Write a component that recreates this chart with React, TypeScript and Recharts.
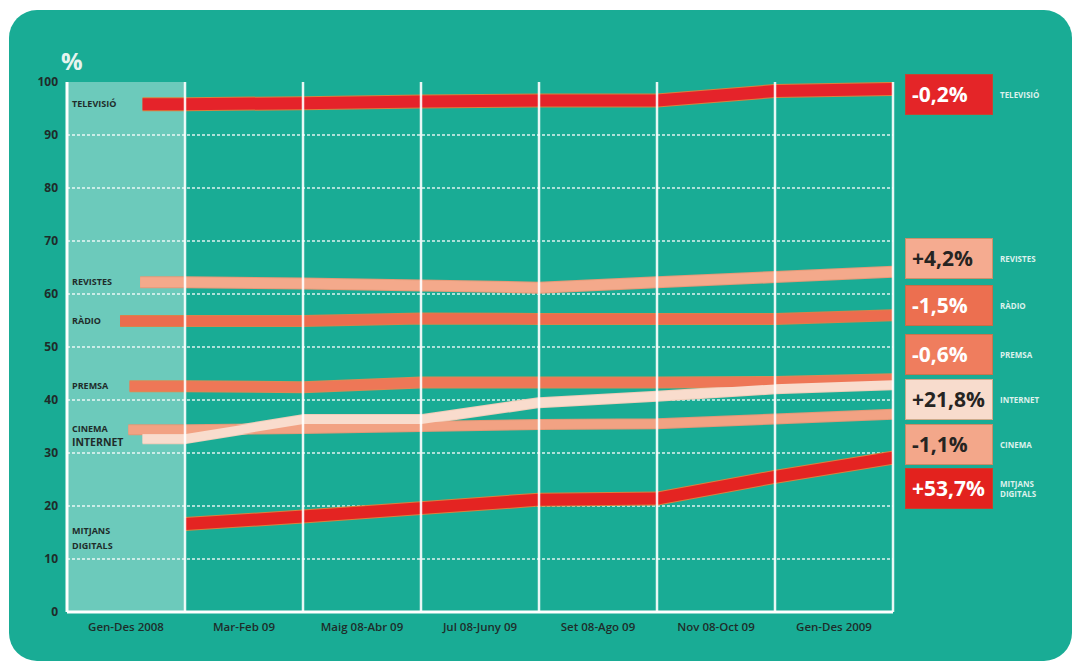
import React from 'react';
import {
  LineChart,
  Line,
  XAxis,
  YAxis,
  CartesianGrid,
  ReferenceArea,
  ReferenceLine,
  LabelList,
} from 'recharts';

// Periods shown along the x axis (one band each)
const periods = [
  'Gen-Des 2008',
  'Mar-Feb 09',
  'Maig 08-Abr 09',
  'Jul 08-Juny 09',
  'Set 08-Ago 09',
  'Nov 08-Oct 09',
  'Gen-Des 2009',
];

const yTicks = [0, 10, 20, 30, 40, 50, 60, 70, 80, 90, 100];
const gridValues = [10, 20, 30, 40, 50, 60, 70, 80, 90];

// Audience share (%) per medium, one value per period
const televisio = [95.8, 96.0, 96.3, 96.5, 96.5, 98.3, 98.7];
const revistes = [62.2, 62.0, 61.6, 61.2, 62.2, 63.2, 64.2];
const radio = [54.9, 54.9, 55.4, 55.3, 55.3, 55.3, 56.0];
const premsa = [42.6, 42.4, 43.3, 43.3, 43.3, 43.4, 43.9];
const cinema = [34.4, 34.6, 35.0, 35.4, 35.5, 36.4, 37.3];
const internet = [32.7, 36.3, 36.3, 39.5, 40.7, 42.1, 42.9];
const mitjans = [16.6, 18.0, 19.6, 21.2, 21.4, 25.5, 29.1];

// Year-on-year change labels
const changes = ['-0,2%', '+4,2%', '-1,5%', '-0,6%', '+21,8%', '-1,1%', '+53,7%'];

const FONT = '"Open Sans", "DejaVu Sans", sans-serif';
const DARK = '#1f2c2a';

const W = 1075;
const H = 666;
const MARGIN = { top: 82, right: 182, bottom: 24, left: 17 };
const Y_AXIS_W = 50;
const X_AXIS_H = 30;
const PLOT_LEFT = MARGIN.left + Y_AXIS_W;

type Series = {
  key: string;
  name: string[];
  values: number[];
  color: string;
  edge: string;
  width: number;
  start: number; // where the line begins inside the first band (x units)
  nameSize: number;
  nameDy: number;
};

const series: Series[] = [
  { key: 'tv', name: ['TELEVISIÓ'], values: televisio, color: '#e5232a', edge: '#d9823f', width: 12, start: 0.64, nameSize: 9, nameDy: 0 },
  { key: 'rev', name: ['REVISTES'], values: revistes, color: '#f4a98b', edge: '#e59a78', width: 10, start: 0.62, nameSize: 9, nameDy: 0 },
  { key: 'rad', name: ['RÀDIO'], values: radio, color: '#ec6c4e', edge: '#d9824a', width: 10, start: 0.45, nameSize: 9, nameDy: 0 },
  { key: 'pre', name: ['PREMSA'], values: premsa, color: '#ee7757', edge: '#db8a55', width: 10, start: 0.53, nameSize: 9, nameDy: 0 },
  { key: 'cin', name: ['CINEMA'], values: cinema, color: '#f2a283', edge: '#e19877', width: 9, start: 0.52, nameSize: 9, nameDy: -1 },
  { key: 'int', name: ['INTERNET'], values: internet, color: '#f9dccd', edge: '#efcdb9', width: 9, start: 0.64, nameSize: 10.5, nameDy: 3.5 },
  { key: 'mit', name: ['MITJANS', 'DIGITALS'], values: mitjans, color: '#e42422', edge: '#d9823f', width: 12, start: 1, nameSize: 9, nameDy: 7 },
];

// Summary boxes on the right: order, colours and layout
const boxes = [
  { change: changes[0], label: ['TELEVISIÓ'], fill: '#e42528', text: '#ffffff', top: 74 },
  { change: changes[1], label: ['REVISTES'], fill: '#f5ab90', text: '#262422', top: 238 },
  { change: changes[2], label: ['RÀDIO'], fill: '#ec6f50', text: '#ffffff', top: 285 },
  { change: changes[3], label: ['PREMSA'], fill: '#ef7d5e', text: '#ffffff', top: 334 },
  { change: changes[4], label: ['INTERNET'], fill: '#f8dccd', text: '#262422', top: 379 },
  { change: changes[5], label: ['CINEMA'], fill: '#f3a78a', text: '#262422', top: 424 },
  { change: changes[6], label: ['MITJANS', 'DIGITALS'], fill: '#e3221e', text: '#ffffff', top: 468 },
];

const toPoints = (s: Series) => {
  const pts = [{ x: s.start, v: s.values[0] }];
  s.values.forEach((v, i) => pts.push({ x: i + 1, v }));
  if (s.start >= 1) pts.shift();
  return pts;
};

const nameRenderer = (s: Series) => (props: any) => {
  if (props.index !== 0) return null;
  const lines = s.name;
  const lh = 15;
  const y0 = props.y + s.nameDy;
  return (
    <text
      x={PLOT_LEFT + 5}
      y={y0}
      fill={DARK}
      fontFamily={FONT}
      fontWeight={700}
      fontSize={s.nameSize}
    >
      {lines.map((l, i) => (
        <tspan key={i} x={PLOT_LEFT + 5} dy={i === 0 ? '0.35em' : lh}>
          {l}
        </tspan>
      ))}
    </text>
  );
};

export default function App() {
  return (
    <div style={{ position: 'absolute', left: 0, top: 0, width: W, height: H, background: '#ffffff', overflow: 'hidden' }}>
      <div
        style={{
          position: 'absolute',
          left: 9,
          top: 10,
          width: 1063,
          height: 651,
          borderRadius: 28,
          background: '#19ac95',
        }}
      />
      <div style={{ position: 'absolute', left: 0, top: 0 }}>
        <LineChart width={W} height={H} margin={MARGIN}>
          <ReferenceArea
            x1={0}
            x2={1}
            y1={0}
            y2={100}
            fill="#ffffff"
            fillOpacity={0.36}
            stroke="none"
            ifOverflow="extendDomain"
          />
          <CartesianGrid
            vertical={false}
            horizontalValues={gridValues}
            stroke="#ffffff"
            strokeOpacity={0.85}
            strokeWidth={1.6}
            strokeDasharray="3 2"
          />
          <XAxis
            dataKey="x"
            type="number"
            domain={[0, 7]}
            ticks={[0.5, 1.5, 2.5, 3.5, 4.5, 5.5, 6.5]}
            interval={0}
            allowDataOverflow
            tickFormatter={(v: number) => periods[Math.round(v - 0.5)]}
            tickLine={false}
            tickSize={0}
            tickMargin={11}
            height={X_AXIS_H}
            axisLine={{ stroke: '#ffffff', strokeWidth: 3 }}
            tick={{ fill: DARK, fontFamily: FONT, fontSize: 11.5, fontWeight: 600 }}
          />
          <YAxis
            type="number"
            domain={[0, 100]}
            ticks={yTicks}
            interval={0}
            allowDataOverflow
            width={Y_AXIS_W}
            tickLine={false}
            tickSize={0}
            tickMargin={9}
            axisLine={{ stroke: '#ffffff', strokeWidth: 3 }}
            tick={{ fill: DARK, fontFamily: FONT, fontSize: 12, fontWeight: 700 }}
          />
          {series.map((s) => (
            <Line
              key={s.key + '-edge'}
              data={toPoints(s)}
              dataKey="v"
              type="linear"
              stroke={s.edge}
              strokeWidth={s.width + 2}
              strokeLinecap="butt"
              strokeLinejoin="round"
              dot={false}
              activeDot={false}
              legendType="none"
              isAnimationActive={false}
            />
          ))}
          {series.map((s) => (
            <Line
              key={s.key}
              data={toPoints(s)}
              dataKey="v"
              type="linear"
              stroke={s.color}
              strokeWidth={s.width}
              strokeLinecap="butt"
              strokeLinejoin="round"
              dot={false}
              activeDot={false}
              isAnimationActive={false}
            >
              <LabelList dataKey="v" content={nameRenderer(s)} />
            </Line>
          ))}
          {[1, 2, 3, 4, 5, 6, 7].map((x) => (
            <ReferenceLine key={x} x={x} stroke="#ffffff" strokeOpacity={0.9} strokeWidth={2.5} zIndex={600} />
          ))}
        </LineChart>
      </div>
      <div
        style={{
          position: 'absolute',
          left: 61,
          top: 47,
          fontFamily: FONT,
          fontWeight: 700,
          fontSize: 24,
          color: '#e6f4ef',
          lineHeight: '28px',
        }}
      >
        %
      </div>
      {boxes.map((b, i) => (
        <React.Fragment key={i}>
          <div
            style={{
              position: 'absolute',
              left: 905,
              top: b.top,
              width: 88,
              height: 41,
              boxSizing: 'border-box',
              background: b.fill,
              border: '1px solid rgba(150, 110, 60, 0.45)',
              color: b.text,
              fontFamily: FONT,
              fontWeight: 700,
              fontSize: 21,
              lineHeight: '39px',
              paddingLeft: 6,
              whiteSpace: 'nowrap',
            }}
          >
            {b.change}
          </div>
          <div
            style={{
              position: 'absolute',
              left: 1000,
              top: b.top,
              height: 41,
              display: 'flex',
              flexDirection: 'column',
              justifyContent: 'center',
              fontFamily: FONT,
              fontWeight: 700,
              fontSize: 8,
              lineHeight: '10px',
              color: '#dcf1ec',
            }}
          >
            {b.label.map((l, j) => (
              <span key={j}>{l}</span>
            ))}
          </div>
        </React.Fragment>
      ))}
    </div>
  );
}
